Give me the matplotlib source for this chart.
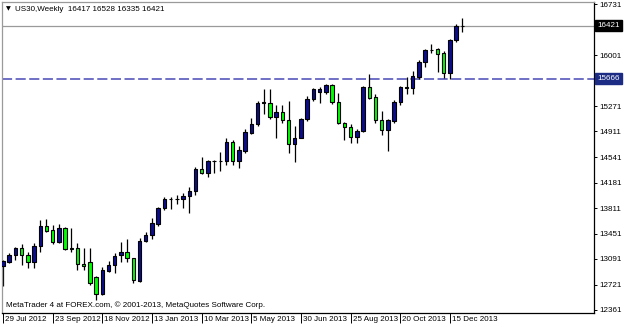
import matplotlib as mpl
mpl.use('Agg')
import matplotlib.pyplot as plt
import matplotlib.transforms as mtransforms

plt.rcParams['font.family'] = ['Liberation Sans', 'DejaVu Sans']

# weekly US30 candles (one per week from 29 Jul 2012)
opens = [12989, 13046, 13145, 13245, 13145, 13046, 13273, 13558, 13501, 13330,
         13529, 13245, 13245, 13017, 13046, 12832, 12590, 12917, 13003, 13145,
         13188, 13103, 12775, 13344, 13430, 13586, 13814, 13942, 13945, 13942,
         13985, 14056, 14369, 14312, 14483, 14490, 14483, 14767, 14483, 14625,
         14895, 15023, 15322, 15322, 15123, 15194, 15080, 14725, 14824, 15095,
         15379, 15479, 15479, 15578, 15336, 15038, 14981, 14838, 14924, 15550,
         15408, 15080, 14938, 15066, 15336, 15540, 15536, 15692, 15906, 16076,
         16091, 16034, 15749, 16219, 16417]
highs = [13074, 13174, 13259, 13302, 13188, 13316, 13643, 13658, 13572, 13586,
         13540, 13529, 13316, 13245, 13245, 12846, 12974, 13060, 13174, 13330,
         13373, 13110, 13387, 13473, 13672, 13828, 13970, 13970, 13999, 14027,
         14113, 14397, 14540, 14497, 14497, 14611, 14824, 14782, 14710, 14952,
         15109, 15351, 15521, 15521, 15294, 15294, 15351, 14995, 15109, 15422,
         15536, 15550, 15593, 15593, 15465, 15040, 15023, 14952, 15555, 15735,
         15450, 15208, 15095, 15365, 15564, 15692, 15778, 15934, 16091, 16162,
         16105, 16062, 16233, 16446, 16528]
lows = [12704, 13031, 13074, 13003, 12960, 12960, 13188, 13473, 13302, 13316,
        13217, 13188, 12932, 12932, 12718, 12505, 12576, 12903, 12889, 13046,
        13046, 12747, 12761, 13330, 13373, 13558, 13785, 13800, 13871, 13814,
        13743, 13999, 14298, 14255, 14312, 14340, 14426, 14426, 14383, 14597,
        14881, 14995, 15166, 15095, 14824, 15038, 14597, 14469, 14824, 15066,
        15351, 15322, 15450, 15308, 15023, 14796, 14739, 14753, 14910, 15379,
        15038, 14867, 14625, 15038, 15294, 15450, 15450, 15664, 15835, 16034,
        15763, 15678, 15664, 16190, 16335]
closes = [13060, 13145, 13245, 13145, 13046, 13273, 13558, 13487, 13330, 13529,
          13231, 13235, 13017, 12989, 12747, 12590, 12932, 13003, 13131, 13188,
          13103, 12789, 13344, 13430, 13601, 13814, 13942, 13950, 13940, 13985,
          14056, 14369, 14312, 14483, 14490, 14483, 14767, 14483, 14639, 14910,
          15023, 15322, 15330, 15123, 15194, 15080, 14725, 14824, 15095, 15379,
          15521, 15521, 15578, 15336, 15038, 14981, 14838, 14924, 15550, 15393,
          15080, 14938, 15080, 15336, 15550, 15536, 15706, 15906, 16076, 16080,
          16020, 15749, 16219, 16418, 16421]

date_labels = ['29 Jul 2012', '23 Sep 2012', '18 Nov 2012', '13 Jan 2013', '10 Mar 2013',
               '5 May 2013', '30 Jun 2013', '25 Aug 2013', '20 Oct 2013', '15 Dec 2013']
price_ticks = [16731, 16001, 15271, 14911, 14541, 14181, 13811,
               13451, 13091, 12721, 12361]
last_price = 16421
hline_price = 15666

fig = plt.figure(figsize=(6.25, 3.27), dpi=100)
ax = fig.add_axes([2 / 625, 1 - 313 / 327, 592 / 625, 311 / 327])

bull = '#0c0c8c'
bear = '#00ff00'
x = list(range(len(opens)))
ax.vlines(x, lows, highs, color='black', lw=0.9, zorder=2)
bottoms = [min(o, c) for o, c in zip(opens, closes)]
heights = [abs(c - o) for o, c in zip(opens, closes)]
colors = [bull if c >= o else bear for o, c in zip(opens, closes)]
ax.bar(x, heights, bottom=bottoms, width=0.55, color=colors,
       edgecolor='black', linewidth=0.8, zorder=3)

ax.axhline(last_price, color='#9a9a9a', lw=0.9, zorder=1)
ax.axhline(hline_price, color='#6f6fc6', lw=1.4, ls=(0, (5.2, 1.8)), zorder=1)

ax.set_xlim(-0.16, 95.2)
ax.set_ylim(12318, 16760)

ax.set_xticks(range(0, 8 * len(date_labels), 8))
ax.set_xticklabels(date_labels, ha='left')
ax.set_yticks(price_ticks)
ax.set_yticklabels([str(p) for p in price_ticks])
ax.yaxis.tick_right()
ax.tick_params(axis='y', direction='out', length=2.5, width=0.7, pad=1.5, labelsize=5.8)
ax.tick_params(axis='x', direction='out', length=7, width=0.7, pad=-5, labelsize=5.8)
for lbl in ax.get_xticklabels():
    lbl.set_transform(lbl.get_transform() + mtransforms.ScaledTranslation(2 / 100, 0, fig.dpi_scale_trans))

for s in ['left', 'top']:
    ax.spines[s].set_color('#9a9a9a')
    ax.spines[s].set_linewidth(0.9)
for s in ['right', 'bottom']:
    ax.spines[s].set_color('black')
    ax.spines[s].set_linewidth(0.9)

tr = mtransforms.blended_transform_factory(ax.transAxes, ax.transData) + \
    mtransforms.ScaledTranslation(3 / 100, 0, fig.dpi_scale_trans)
ax.text(1.0, last_price, str(last_price), transform=tr, ha='left', va='center',
        fontsize=5.8, color='white', clip_on=False, zorder=10,
        bbox=dict(boxstyle='square,pad=0.25', fc='black', ec='black'))
ax.text(1.0, hline_price, str(hline_price), transform=tr, ha='left', va='center',
        fontsize=5.8, color='white', clip_on=False, zorder=10,
        bbox=dict(boxstyle='square,pad=0.25', fc='#1c2c84', ec='#1c2c84'))

ax.text(0.006, 0.985, '\u25bc', transform=ax.transAxes, ha='left', va='top', fontsize=4.5,
        family=['DejaVu Sans'])
ax.text(0.022, 0.988, 'US30,Weekly  16417 16528 16335 16421', transform=ax.transAxes,
        ha='left', va='top', fontsize=5.8)
ax.text(0.006, 0.012, 'MetaTrader 4 at FOREX.com, \u00a9 2001-2013, MetaQuotes Software Corp.',
        transform=ax.transAxes, ha='left', va='bottom', fontsize=5.8)

fig.savefig('out.png', dpi=100)
